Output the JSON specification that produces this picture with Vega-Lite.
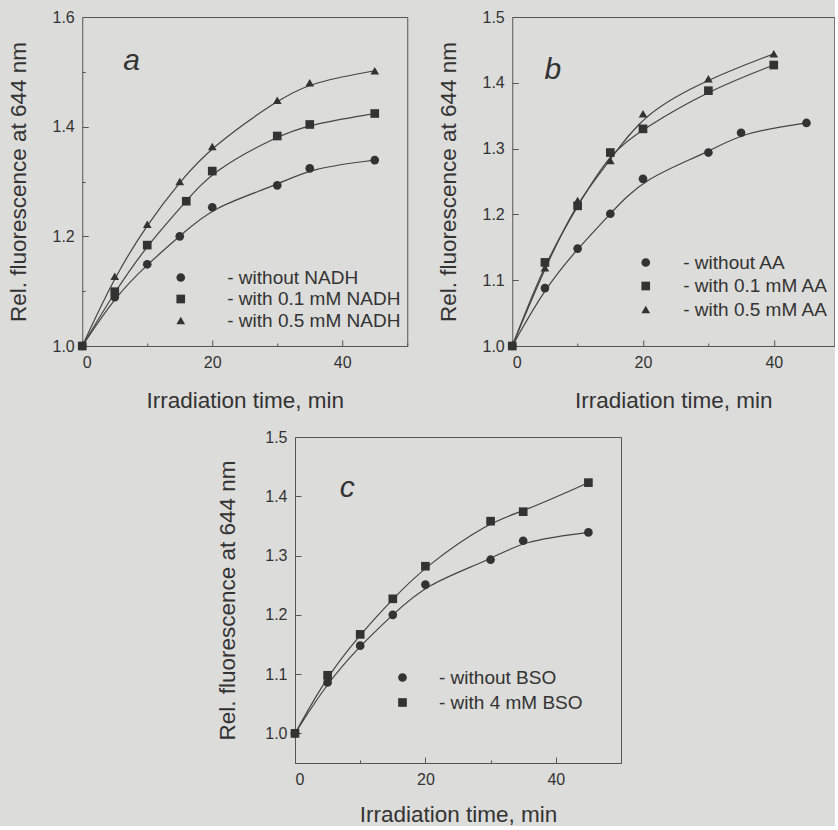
{
  "$schema": "https://vega.github.io/schema/vega-lite/v6.json",
  "background": "#dcdcda",
  "padding": {"left": 6, "top": 8, "right": 0, "bottom": 0},
  "config": {
    "font": "Liberation Sans",
    "view": {"stroke": "#555555", "strokeWidth": 1},
    "axis": {"grid": false, "domain": false, "labelFontSize": 16, "labelColor": "#333333", "titleFontSize": 22.5, "titleFontWeight": "normal", "titleColor": "#333333", "tickColor": "#555555", "labelPadding": 14, "titlePadding": 22},
    "axisX": {"titlePadding": 19},
    "legend": {"labelFontSize": 19, "labelColor": "#333333", "title": null, "rowPadding": 1.5, "labelLimit": 0}
  },
  "datasets": {
    "a": [
      {"t": 0, "f": 1.0, "s": "- without NADH"}, {"t": 5, "f": 1.089, "s": "- without NADH"}, {"t": 10, "f": 1.149, "s": "- without NADH"}, {"t": 15, "f": 1.2, "s": "- without NADH"}, {"t": 20, "f": 1.253, "s": "- without NADH"}, {"t": 30, "f": 1.293, "s": "- without NADH"}, {"t": 35, "f": 1.324, "s": "- without NADH"}, {"t": 45, "f": 1.339, "s": "- without NADH"},
      {"t": 0, "f": 1.0, "s": "- with 0.1 mM NADH"}, {"t": 5, "f": 1.099, "s": "- with 0.1 mM NADH"}, {"t": 10, "f": 1.184, "s": "- with 0.1 mM NADH"}, {"t": 16, "f": 1.264, "s": "- with 0.1 mM NADH"}, {"t": 20, "f": 1.319, "s": "- with 0.1 mM NADH"}, {"t": 30, "f": 1.383, "s": "- with 0.1 mM NADH"}, {"t": 35, "f": 1.404, "s": "- with 0.1 mM NADH"}, {"t": 45, "f": 1.424, "s": "- with 0.1 mM NADH"},
      {"t": 0, "f": 1.0, "s": "- with 0.5 mM NADH"}, {"t": 5, "f": 1.127, "s": "- with 0.5 mM NADH"}, {"t": 10, "f": 1.222, "s": "- with 0.5 mM NADH"}, {"t": 15, "f": 1.3, "s": "- with 0.5 mM NADH"}, {"t": 20, "f": 1.364, "s": "- with 0.5 mM NADH"}, {"t": 30, "f": 1.448, "s": "- with 0.5 mM NADH"}, {"t": 35, "f": 1.48, "s": "- with 0.5 mM NADH"}, {"t": 45, "f": 1.502, "s": "- with 0.5 mM NADH"}
    ],
    "b": [
      {"t": 0, "f": 1.0, "s": "- without AA"}, {"t": 5, "f": 1.088, "s": "- without AA"}, {"t": 10, "f": 1.148, "s": "- without AA"}, {"t": 15, "f": 1.201, "s": "- without AA"}, {"t": 20, "f": 1.254, "s": "- without AA"}, {"t": 30, "f": 1.294, "s": "- without AA"}, {"t": 35, "f": 1.324, "s": "- without AA"}, {"t": 45, "f": 1.339, "s": "- without AA"},
      {"t": 0, "f": 1.0, "s": "- with 0.1 mM AA"}, {"t": 5, "f": 1.127, "s": "- with 0.1 mM AA"}, {"t": 10, "f": 1.213, "s": "- with 0.1 mM AA"}, {"t": 15, "f": 1.294, "s": "- with 0.1 mM AA"}, {"t": 20, "f": 1.33, "s": "- with 0.1 mM AA"}, {"t": 30, "f": 1.388, "s": "- with 0.1 mM AA"}, {"t": 40, "f": 1.427, "s": "- with 0.1 mM AA"},
      {"t": 0, "f": 1.0, "s": "- with 0.5 mM AA"}, {"t": 5, "f": 1.119, "s": "- with 0.5 mM AA"}, {"t": 10, "f": 1.221, "s": "- with 0.5 mM AA"}, {"t": 15, "f": 1.282, "s": "- with 0.5 mM AA"}, {"t": 20, "f": 1.353, "s": "- with 0.5 mM AA"}, {"t": 30, "f": 1.406, "s": "- with 0.5 mM AA"}, {"t": 40, "f": 1.444, "s": "- with 0.5 mM AA"}
    ],
    "c": [
      {"t": 0, "f": 1.0, "s": "- without BSO"}, {"t": 5, "f": 1.086, "s": "- without BSO"}, {"t": 10, "f": 1.148, "s": "- without BSO"}, {"t": 15, "f": 1.2, "s": "- without BSO"}, {"t": 20, "f": 1.251, "s": "- without BSO"}, {"t": 30, "f": 1.293, "s": "- without BSO"}, {"t": 35, "f": 1.325, "s": "- without BSO"}, {"t": 45, "f": 1.339, "s": "- without BSO"},
      {"t": 0, "f": 1.0, "s": "- with 4 mM BSO"}, {"t": 5, "f": 1.098, "s": "- with 4 mM BSO"}, {"t": 10, "f": 1.167, "s": "- with 4 mM BSO"}, {"t": 15, "f": 1.227, "s": "- with 4 mM BSO"}, {"t": 20, "f": 1.282, "s": "- with 4 mM BSO"}, {"t": 30, "f": 1.358, "s": "- with 4 mM BSO"}, {"t": 35, "f": 1.374, "s": "- with 4 mM BSO"}, {"t": 45, "f": 1.423, "s": "- with 4 mM BSO"}
    ]
  },
  "center": true,
  "spacing": 16,
  "vconcat": [
    {
      "spacing": 28,
      "hconcat": [
        {
          "width": 325, "height": 329,
          "layer": [
            {
              "data": {"name": "a"},
              "mark": {"type": "line", "interpolate": "basis", "color": "#444444", "strokeWidth": 1.2},
              "encoding": {
                "x": {"field": "t", "type": "quantitative", "scale": {"domain": [0, 50], "nice": false}, "axis": {"title": "Irradiation time, min", "values": [0, 10, 20, 30, 40, 50], "labelExpr": "datum.value % 20 == 0 ? datum.label : ''", "tickSize": {"condition": {"test": "datum.value % 20 != 0", "value": -3}, "value": -6}}},
                "y": {"field": "f", "type": "quantitative", "scale": {"domain": [1.0, 1.6], "nice": false, "zero": false}, "axis": {"title": "Rel. fluorescence at 644 nm", "values": [1.0, 1.1, 1.2, 1.3, 1.4, 1.5, 1.6], "labelExpr": "round(datum.value*10) % 2 == 0 ? format(datum.value, '.1f') : ''", "tickSize": {"condition": {"test": "round(datum.value*10) % 2 == 1", "value": -3}, "value": -6}}},
                "detail": {"field": "s"}
              }
            },
            {
              "data": {"name": "a"},
              "mark": {"type": "point", "filled": true, "color": "#333333", "size": 75, "opacity": 1},
              "encoding": {
                "x": {"field": "t", "type": "quantitative"},
                "y": {"field": "f", "type": "quantitative"},
                "shape": {"field": "s", "type": "nominal", "scale": {"domain": ["- without NADH", "- with 0.1 mM NADH", "- with 0.5 mM NADH"], "range": ["circle", "square", "triangle-up"]}, "legend": {"orient": "none", "legendX": 89, "legendY": 251, "labelOffset": 37, "symbolSize": 75, "symbolFillColor": "#333333", "symbolStrokeColor": "#333333"}}
              }
            },
            {
              "data": {"values": [{}]},
              "mark": {"type": "text", "text": "a", "fontStyle": "italic", "fontSize": 30, "color": "#333333", "baseline": "middle"},
              "encoding": {"x": {"datum": 7.6}, "y": {"datum": 1.52}}
            }
          ]
        },
        {
          "width": 322, "height": 329,
          "layer": [
            {
              "data": {"name": "b"},
              "mark": {"type": "line", "interpolate": "basis", "color": "#444444", "strokeWidth": 1.2},
              "encoding": {
                "x": {"field": "t", "type": "quantitative", "scale": {"domain": [0, 49.25], "nice": false}, "axis": {"title": "Irradiation time, min", "values": [0, 10, 20, 30, 40], "labelExpr": "datum.value % 20 == 0 ? datum.label : ''", "tickSize": {"condition": {"test": "datum.value % 20 != 0", "value": -3}, "value": -6}}},
                "y": {"field": "f", "type": "quantitative", "scale": {"domain": [1.0, 1.5], "nice": false, "zero": false}, "axis": {"title": "Rel. fluorescence at 644 nm", "values": [1.0, 1.05, 1.1, 1.15, 1.2, 1.25, 1.3, 1.35, 1.4, 1.45, 1.5], "labelExpr": "round(datum.value*100) % 10 == 0 ? format(datum.value, '.1f') : ''", "tickSize": {"condition": {"test": "round(datum.value*100) % 10 != 0", "value": -3}, "value": -6}}},
                "detail": {"field": "s"}
              }
            },
            {
              "data": {"name": "b"},
              "mark": {"type": "point", "filled": true, "color": "#333333", "size": 75, "opacity": 1},
              "encoding": {
                "x": {"field": "t", "type": "quantitative"},
                "y": {"field": "f", "type": "quantitative"},
                "shape": {"field": "s", "type": "nominal", "scale": {"domain": ["- without AA", "- with 0.1 mM AA", "- with 0.5 mM AA"], "range": ["circle", "square", "triangle-up"]}, "legend": {"orient": "none", "legendX": 124, "legendY": 236, "labelOffset": 28, "rowPadding": 3.5, "symbolSize": 75, "symbolFillColor": "#333333", "symbolStrokeColor": "#333333"}}
              }
            },
            {
              "data": {"values": [{}]},
              "mark": {"type": "text", "text": "b", "fontStyle": "italic", "fontSize": 30, "color": "#333333", "baseline": "middle"},
              "encoding": {"x": {"datum": 6.2}, "y": {"datum": 1.42}}
            }
          ]
        }
      ],
      "resolve": {"scale": {"x": "independent", "y": "independent", "shape": "independent"}, "legend": {"shape": "independent"}}
    },
    {
      "width": 326, "height": 326,
      "layer": [
        {
          "data": {"name": "c"},
          "mark": {"type": "line", "interpolate": "basis", "color": "#444444", "strokeWidth": 1.2},
          "encoding": {
            "x": {"field": "t", "type": "quantitative", "scale": {"domain": [0, 50], "nice": false}, "axis": {"title": "Irradiation time, min", "titlePadding": 16, "values": [0, 10, 20, 30, 40, 50], "labelExpr": "datum.value % 20 == 0 ? datum.label : ''", "tickSize": {"condition": {"test": "datum.value % 20 != 0", "value": -3}, "value": -6}}},
            "y": {"field": "f", "type": "quantitative", "scale": {"domain": [0.95, 1.5], "nice": false, "zero": false}, "axis": {"title": "Rel. fluorescence at 644 nm", "titlePadding": 25, "values": [1.0, 1.05, 1.1, 1.15, 1.2, 1.25, 1.3, 1.35, 1.4, 1.45, 1.5], "labelExpr": "round(datum.value*100) % 10 == 0 ? format(datum.value, '.1f') : ''", "tickSize": {"condition": {"test": "round(datum.value*100) % 10 != 0", "value": -3}, "value": -6}}},
            "detail": {"field": "s"}
          }
        },
        {
          "data": {"name": "c"},
          "mark": {"type": "point", "filled": true, "color": "#333333", "size": 75, "opacity": 1},
          "encoding": {
            "x": {"field": "t", "type": "quantitative"},
            "y": {"field": "f", "type": "quantitative"},
            "shape": {"field": "s", "type": "nominal", "scale": {"domain": ["- without BSO", "- with 4 mM BSO"], "range": ["circle", "square"]}, "legend": {"orient": "none", "legendX": 98, "legendY": 231, "labelOffset": 27, "rowPadding": 5, "symbolSize": 75, "symbolFillColor": "#333333", "symbolStrokeColor": "#333333"}}
          }
        },
        {
          "data": {"values": [{}]},
          "mark": {"type": "text", "text": "c", "fontStyle": "italic", "fontSize": 30, "color": "#333333", "baseline": "middle"},
          "encoding": {"x": {"datum": 8.0}, "y": {"datum": 1.414}}
        }
      ]
    }
  ],
  "resolve": {"scale": {"x": "independent", "y": "independent", "shape": "independent"}, "legend": {"shape": "independent"}}
}
